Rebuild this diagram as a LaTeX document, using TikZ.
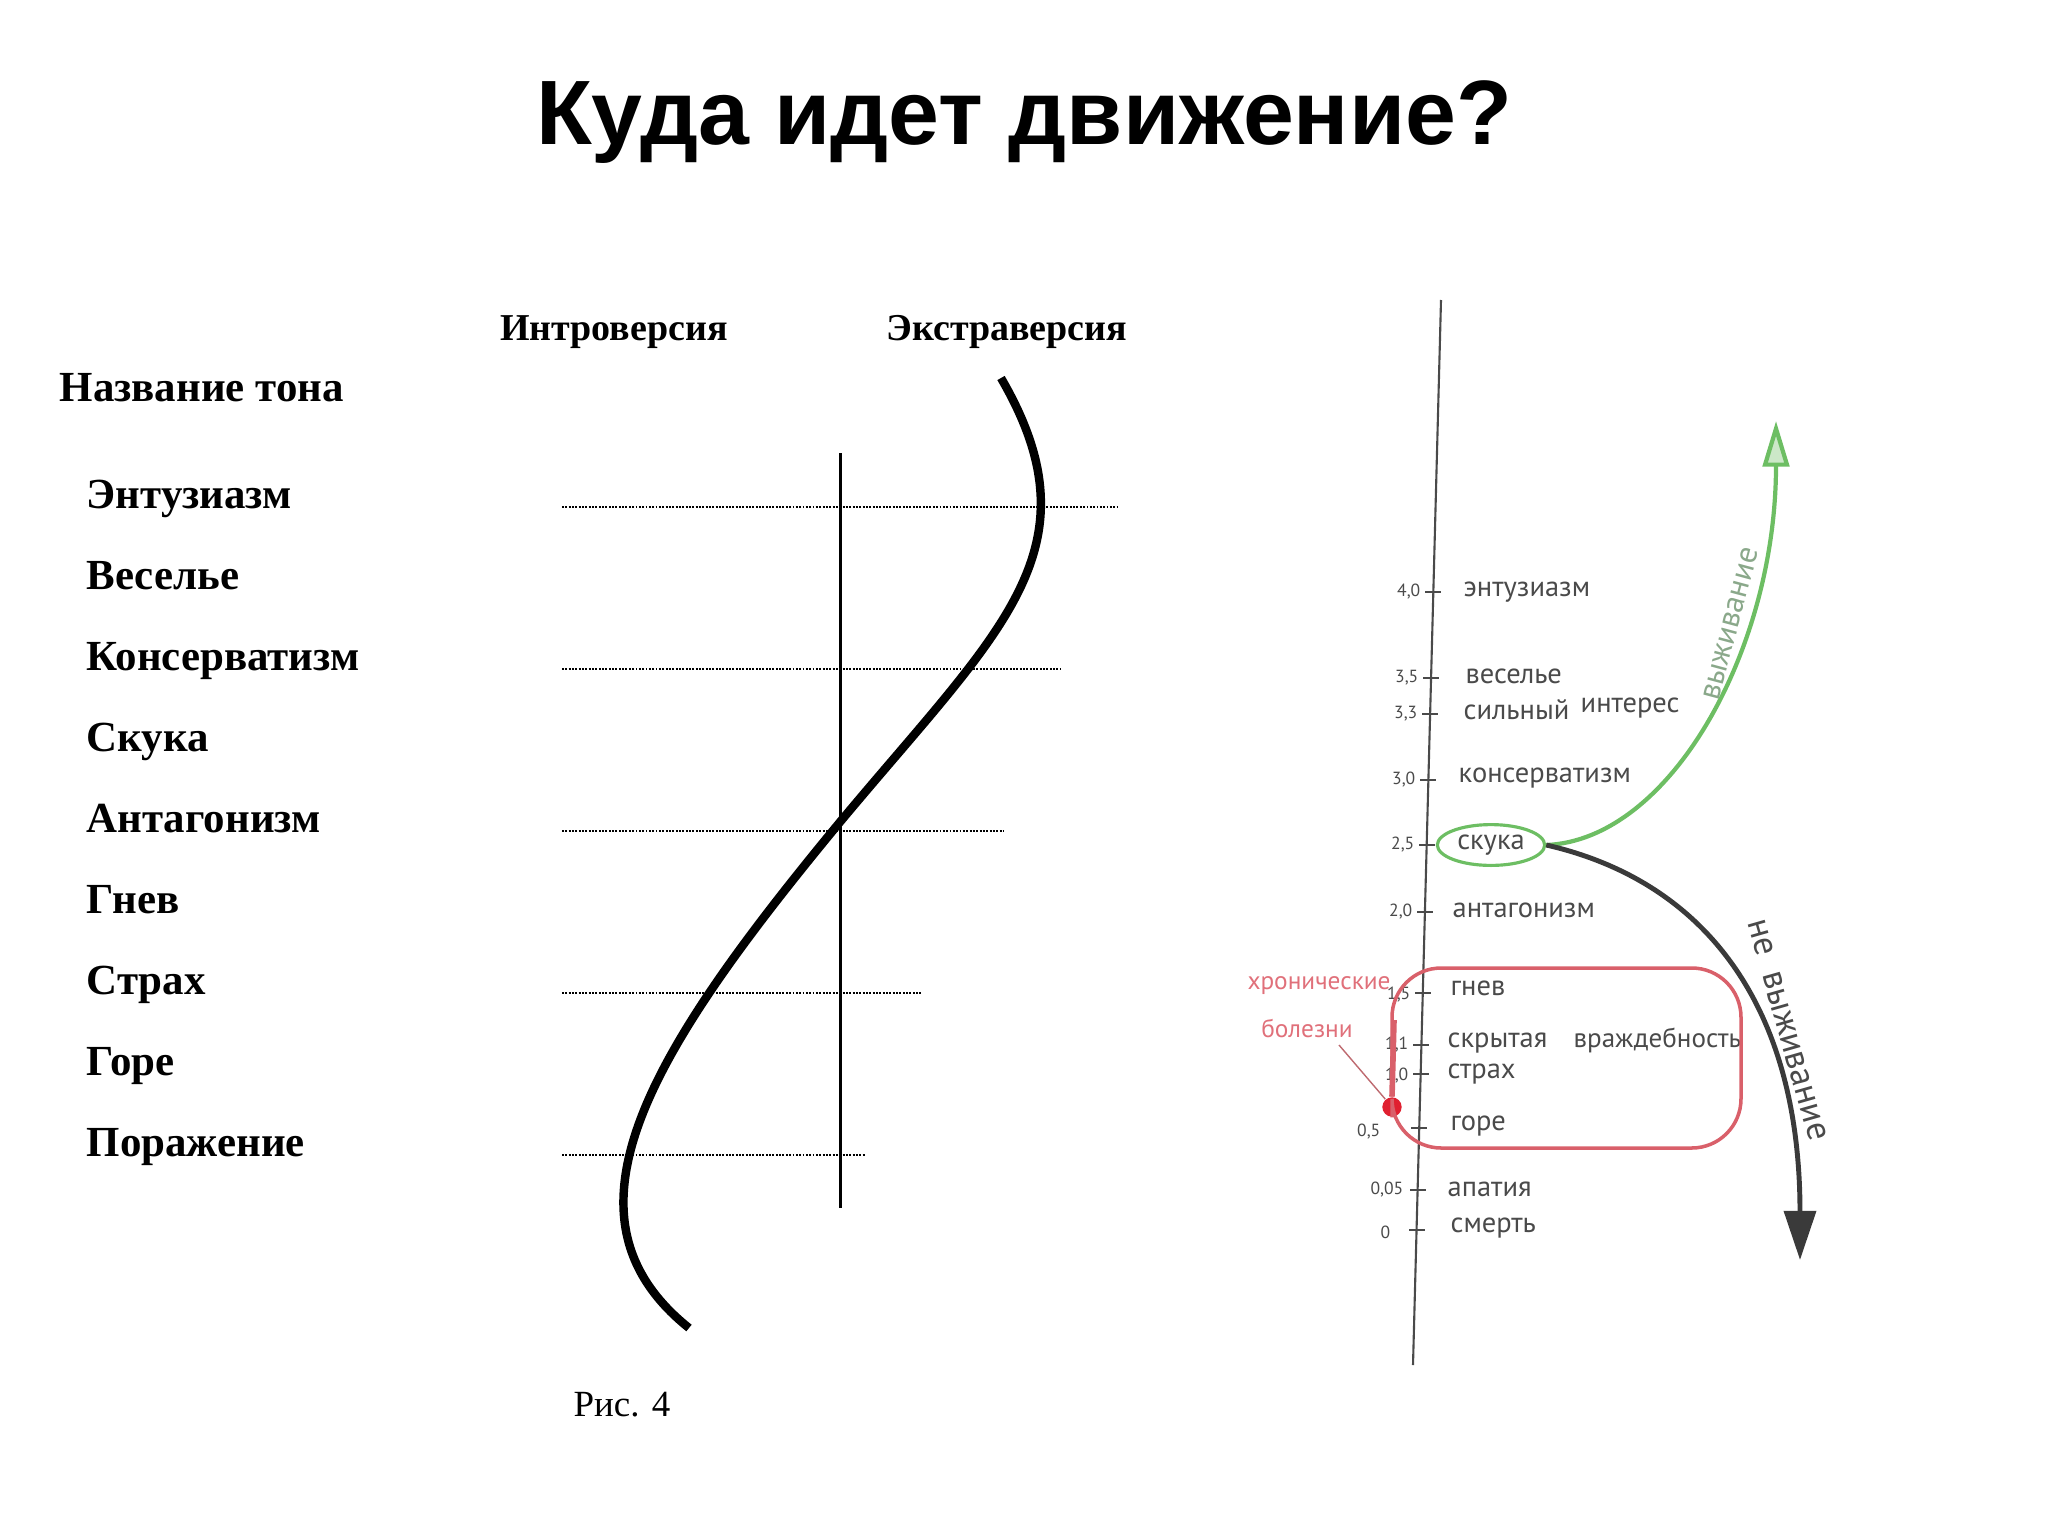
\documentclass[tikz,border=0pt]{standalone}
\usepackage{fontspec}
\setmainfont{Liberation Serif}
\newfontfamily\titlefont{Liberation Sans}
\newfontfamily\handfont{PT Sans}
\usetikzlibrary{arrows.meta,shapes.geometric}
\definecolor{handgray}{HTML}{4A4A4A}
\definecolor{greenline}{HTML}{6DBE63}
\definecolor{greentext}{HTML}{8AA88A}
\definecolor{redline}{HTML}{D9606A}
\definecolor{dotred}{HTML}{E02030}
\definecolor{redtext}{HTML}{E0707A}
\definecolor{darkarrow}{HTML}{3A3A3A}

\begin{document}
\begin{tikzpicture}[x=0.01cm,y=-0.01cm,
  tone/.style={anchor=base west,inner sep=0pt,font=\bfseries\fontsize{12.2}{14}\selectfont},
  side/.style={anchor=base,font=\bfseries\fontsize{10.8}{13}\selectfont},
  guide/.style={line width=0.75pt,dash pattern=on 0.55pt off 0.4pt},
  hand/.style={anchor=west,inner sep=0pt,text=handgray,font=\handfont\fontsize{8.1}{10}\selectfont},
  val/.style={anchor=east,inner sep=0pt,text=handgray,font=\handfont\fontsize{5}{6}\selectfont},
  redhand/.style={text=redtext,font=\handfont\fontsize{7.2}{9}\selectfont},
  tickmark/.style={handgray,line width=0.5pt}]
\useasboundingbox (0,0) rectangle (2048,1536);

% left: tone names
\draw (1024,122) node[font=\titlefont\bfseries\fontsize{26}{30}\selectfont] (title) {Куда идет движение?};
\draw (614,340) node[side] (intro) {Интроверсия};
\draw (1007,340) node[side] (extra) {Экстраверсия};
\draw (59,401) node[tone] (tonename) {Название тона};
\draw (86,508) node[tone] (t1) {Энтузиазм};
\draw (86,589) node[tone] (t2) {Веселье};
\draw (86,670) node[tone] (t3) {Консерватизм};
\draw (86,751) node[tone] (t4) {Скука};
\draw (86,832) node[tone] (t5) {Антагонизм};
\draw (86,913) node[tone] (t6) {Гнев};
\draw (86,994) node[tone] (t7) {Страх};
\draw (86,1075) node[tone] (t8) {Горе};
\draw (86,1156) node[tone] (t9) {Поражение};
\draw (622,1416) node[anchor=base,font=\fontsize{10.5}{13}\selectfont] (fig) {Рис. 4};

\draw[guide] (562,507) -- (1117,507);
\draw[guide] (562,669) -- (1061,669);
\draw[guide] (562,831) -- (1004,831);
\draw[guide] (562,993) -- (922,993);
\draw[guide] (562,1155) -- (866,1155);
\draw[line width=0.85pt] (840,453) -- (840,1208);
\draw[line width=2.4pt] (1001,378) .. controls (1101,550) and (1000,630) .. (840,822)
  .. controls (649,1053) and (549,1216) .. (689,1328);

% right: hand drawn scale
\coordinate (axtop) at (1441,300);
\coordinate (axbot) at (1413,1365);
\draw[handgray,line width=0.6pt] (axtop) -- (axbot);

\draw[tickmark] (1425,592) -- (1441,592);
\draw (1421,592) node[val] (v1) {4,0};
\draw (1463,592) node[hand] (h1) {энтузиазм};
\draw[tickmark] (1423,678) -- (1439,678);
\draw (1419,678) node[val] (v2) {3,5};
\draw (1465,676) node[hand] (h2) {веселье};
\draw[tickmark] (1422,714) -- (1438,714);
\draw (1418,714) node[val] (v3) {3,3};
\draw (1463,710) node[hand] (h3) {сильный};
\draw (1580,708) node[hand] (h3b) {интерес};
\draw[tickmark] (1420,780) -- (1436,780);
\draw (1416,780) node[val] (v4) {3,0};
\draw (1458,778) node[hand] (h4) {консерватизм};
\draw[tickmark] (1419,845) -- (1435,845);
\draw (1415,845) node[val] (v5) {2,5};
\node[ellipse,draw=greenline,line width=0.9pt,inner sep=1.2pt,text=handgray,font=\handfont\fontsize{8.1}{10}\selectfont] (skuka) at (1491,845) {скука};
\draw[tickmark] (1417,912) -- (1433,912);
\draw (1413,912) node[val] (v6) {2,0};
\draw (1452,910) node[hand] (h6) {антагонизм};
\draw[tickmark] (1415,993) -- (1431,993);
\draw (1411,995) node[val] (v7) {1,5};
\draw (1450,988) node[hand] (h7) {гнев};
\draw[tickmark] (1413,1045) -- (1429,1045);
\draw (1409,1045) node[val] (v8) {1,1};
\draw (1447,1043) node[hand] (h8) {скрытая};
\draw (1573,1040) node[hand,font=\handfont\fontsize{7.7}{10}\selectfont] (h8b) {враждебность};
\draw[tickmark] (1413,1074) -- (1429,1074);
\draw (1409,1076) node[val] (v9) {1,0};
\draw (1447,1074) node[hand] (h9) {страх};
\draw[tickmark] (1411,1128) -- (1427,1128);
\draw (1381,1132) node[val] (v10) {0,5};
\draw (1450,1126) node[hand] (h10) {горе};
\draw[tickmark] (1410,1190) -- (1426,1190);
\draw (1404,1190) node[val] (v11) {0,05};
\draw (1447,1189) node[hand] (h11) {апатия};
\draw[tickmark] (1409,1230) -- (1425,1230);
\draw (1391,1232) node[val] (v12) {0};
\draw (1450,1228) node[hand] (h12) {смерть};

% survival / non-survival
\coordinate (up) at (1776,421);
\coordinate (down) at (1800,1260);
\draw[greenline,line width=1.2pt,-{Triangle[length=13pt,width=7.5pt,fill=greenline!35]}] (skuka.east) .. controls (1670,840) and (1776,650) .. (up);
\draw[darkarrow,line width=1.4pt,-{Triangle[length=14pt,width=9pt]}] (skuka.east) .. controls (1700,880) and (1800,1000) .. (down);
\node[rotate=75,text=greentext,font=\handfont\fontsize{9}{10}\selectfont] (surv) at (1731,624) {выживание};
\node[rotate=-74,text=handgray,font=\handfont\fontsize{10}{11}\selectfont] (nosurv) at (1787,1030) {не\enspace выживание};

% chronic loop
\node[circle,fill=dotred,inner sep=0pt,minimum size=5.5pt] (sick) at (1392,1107) {};
\draw[redline,line width=1pt,rounded corners=14pt] (sick.north) -- (1392,968) -- (1741,968) -- (1741,1148) -- (1392,1148) -- (sick.south);
\draw[redline,line width=1.6pt] (sick.north) -- (1394,1020);
\node[redhand] (chron) at (1319,986) {хронические};
\node[redhand] (bolezni) at (1307,1028) {болезни};
\draw[redline!70!gray,line width=0.4pt] (1339,1045) -- (sick);
\end{tikzpicture}
\end{document}
